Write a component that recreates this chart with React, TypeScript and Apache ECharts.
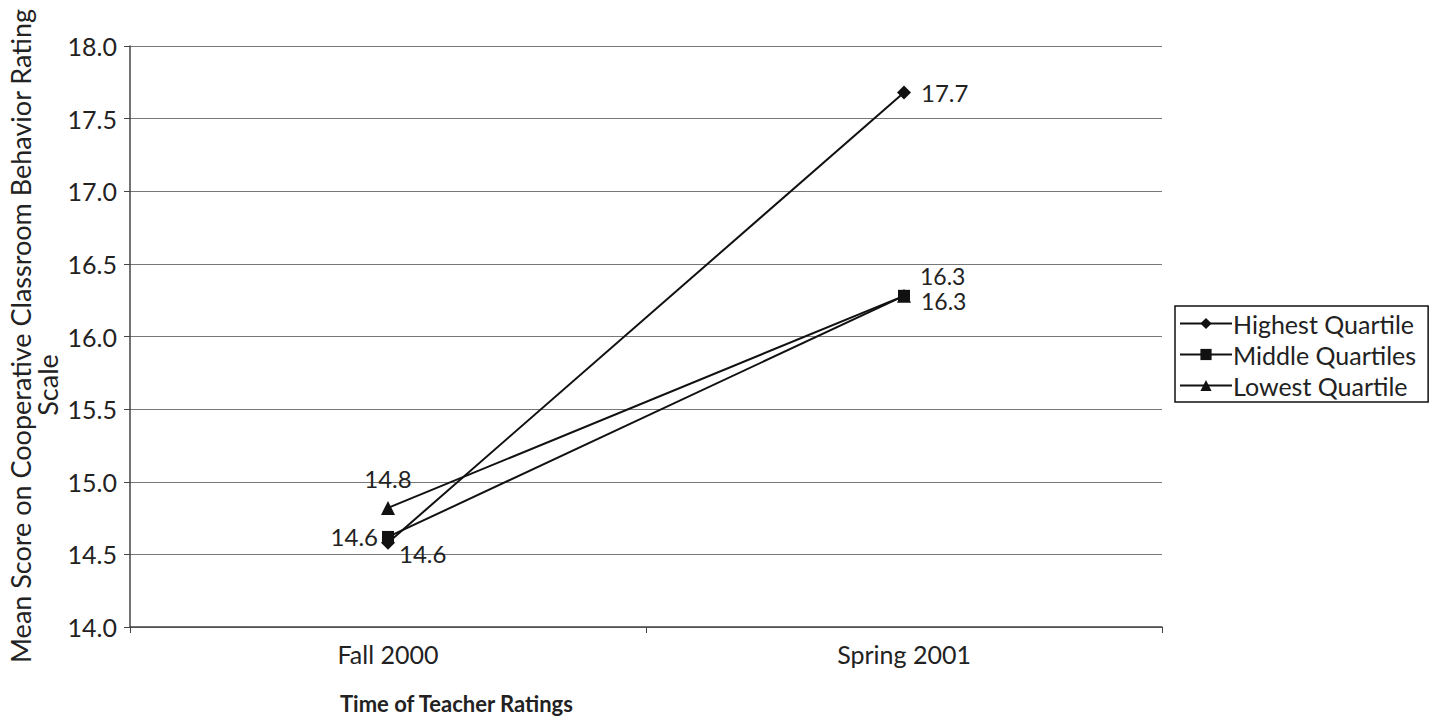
import React, { useEffect, useRef } from "react";
import * as echarts from "echarts";

const categories = ["Fall 2000", "Spring 2001"];
const highest = [14.58, 17.68];
const middle = [14.62, 16.28];
const lowest = [14.82, 16.28];
const yTicks = { min: 14, max: 18, interval: 0.5 };
const yTitleLine1 = "Mean Score on Cooperative Classroom Behavior Rating";
const yTitleLine2 = "Scale";
const xTitle = "Time of Teacher Ratings";

const FONT = "Lato, 'Open Sans', sans-serif";

export default function App() {
  const ref = useRef<HTMLDivElement>(null);
  useEffect(() => {
    const chart = echarts.init(ref.current!, undefined, { renderer: "svg" });
    const fmt = (p: any) => Number(p.value).toFixed(1);
    const lbl = (extra: any) => ({
      show: true,
      formatter: fmt,
      fontSize: 24,
      lineHeight: 24,
      color: "#222",
      fontFamily: FONT,
      ...extra,
    });
    const lineStyle = { color: "#111", width: 2 };
    chart.setOption({
      animation: false,
      textStyle: { fontFamily: FONT },
      grid: { left: 130, right: 283, top: 46, bottom: 92 },
      legend: {
        orient: "vertical",
        left: 1175,
        top: 306,
        width: 257,
        itemWidth: 52,
        itemHeight: 14,
        itemGap: 6,
        padding: [5, 12, 4, 4],
        borderColor: "#111",
        borderWidth: 1.5,
        textStyle: { fontSize: 25, color: "#222", fontFamily: FONT, padding: [0, 0, 0, -4] },
        data: ["Highest Quartile", "Middle Quartiles", "Lowest Quartile"],
      },
      xAxis: {
        type: "category",
        data: categories,
        boundaryGap: true,
        axisLine: { lineStyle: { color: "#444", width: 1.5 } },
        axisTick: { show: true, length: 6, lineStyle: { color: "#444" } },
        axisLabel: { fontSize: 25, color: "#222", margin: 14, fontFamily: FONT },
        splitLine: { show: false },
      },
      yAxis: {
        type: "value",
        min: yTicks.min,
        max: yTicks.max,
        interval: yTicks.interval,
        axisLine: { show: true, lineStyle: { color: "#444", width: 1.5 } },
        axisTick: { show: true, length: 6, lineStyle: { color: "#444" } },
        axisLabel: { fontSize: 25, color: "#222", margin: 13, formatter: (v: number) => v.toFixed(1), fontFamily: FONT },
        splitLine: { show: true, lineStyle: { color: "#777", width: 1.2 } },
      },
      series: [
        {
          name: "Highest Quartile",
          type: "line",
          symbol: "diamond",
          symbolSize: 14,
          itemStyle: { color: "#111" },
          lineStyle,
          data: [
            { value: highest[0], label: lbl({ position: "right", distance: 4, offset: [0, 11] }) },
            { value: highest[1], label: lbl({ position: "right", distance: 10 }) },
          ],
        },
        {
          name: "Middle Quartiles",
          type: "line",
          symbol: "rect",
          symbolSize: 12,
          itemStyle: { color: "#111" },
          lineStyle,
          data: [
            { value: middle[0], label: lbl({ position: "left", distance: 4 }) },
            { value: middle[1], label: lbl({ position: "right", distance: 10, offset: [0, -20], fontSize: 23, lineHeight: 22 }) },
          ],
        },
        {
          name: "Lowest Quartile",
          type: "line",
          symbol: "triangle",
          symbolSize: 14,
          itemStyle: { color: "#111" },
          lineStyle,
          data: [
            { value: lowest[0], label: lbl({ position: "top", distance: 10 }) },
            { value: lowest[1], label: lbl({ position: "right", distance: 10, offset: [0, 5], fontSize: 23, lineHeight: 22 }) },
          ],
        },
      ],
      graphic: [
        {
          type: "text",
          x: 20,
          y: 336,
          rotation: Math.PI / 2,
          style: {
            text: yTitleLine1,
            fontSize: 27,
            fill: "#222",
            fontFamily: FONT,
            align: "center",
            verticalAlign: "middle",
          },
        },
        {
          type: "text",
          x: 47,
          y: 385,
          rotation: Math.PI / 2,
          style: {
            text: yTitleLine2,
            fontSize: 27,
            fill: "#222",
            fontFamily: FONT,
            align: "center",
            verticalAlign: "middle",
          },
        },
        {
          type: "text",
          left: 340,
          top: 692,
          style: {
            text: xTitle,
            fontSize: 22,
            fontWeight: "bold",
            fill: "#222",
            fontFamily: FONT,
          },
        },
      ],
    });
    return () => chart.dispose();
  }, []);
  return (
    <div
      ref={ref}
      style={{ position: "fixed", left: 0, top: 0, width: 1445, height: 719, background: "#fff" }}
    />
  );
}
